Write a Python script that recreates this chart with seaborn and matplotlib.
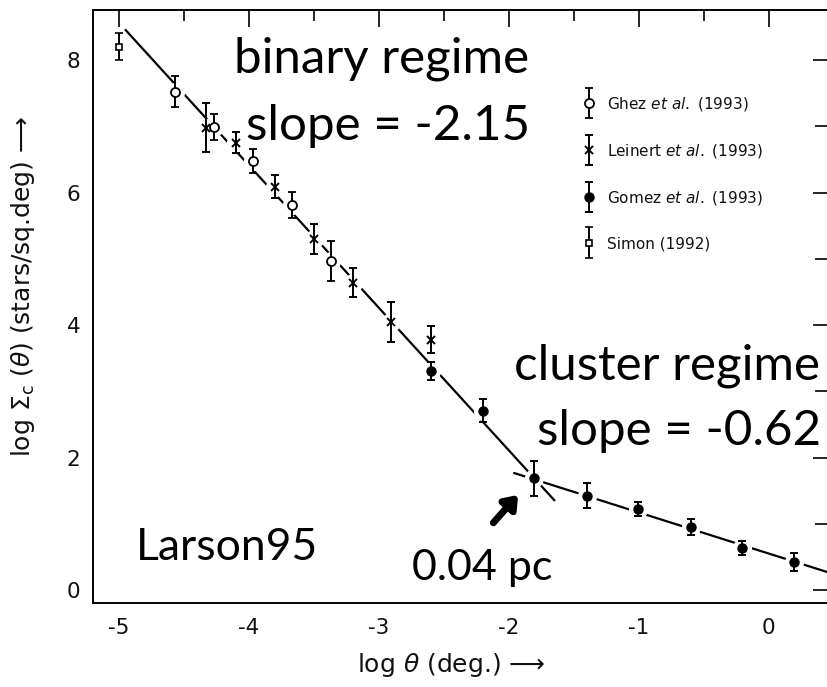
import matplotlib
matplotlib.use("Agg")
import matplotlib.pyplot as plt
import seaborn as sns
import numpy as np
import matplotlib.patheffects as pe
from matplotlib.container import ErrorbarContainer
from matplotlib.legend_handler import HandlerErrorbar
from matplotlib.ticker import MultipleLocator, FixedLocator

# ---------------- data ----------------
ghez_x = [-4.57, -4.27, -3.97, -3.67, -3.37]
ghez_y = [7.52, 6.99, 6.48, 5.81, 4.97]
ghez_e = [0.23, 0.20, 0.18, 0.20, 0.30]

leinert_x = [-4.33, -4.10, -3.80, -3.50, -3.20, -2.91, -2.60]
leinert_y = [6.98, 6.75, 6.09, 5.30, 4.64, 4.05, 3.78]
leinert_e = [0.37, 0.16, 0.17, 0.22, 0.22, 0.30, 0.20]

gomez_x = [-2.60, -2.20, -1.81, -1.40, -1.01, -0.60, -0.21, 0.19]
gomez_y = [3.31, 2.71, 1.69, 1.43, 1.23, 0.95, 0.64, 0.43]
gomez_e = [0.14, 0.17, 0.26, 0.19, 0.11, 0.12, 0.10, 0.13]

simon_x = [-5.00]
simon_y = [8.20]
simon_e = [0.20]

# power-law fits: x range, slope, intercept
binary_range = [-4.95, -1.65]
binary_slope = -2.15
binary_icpt = -2.19
cluster_range = [-1.96, 0.50]
cluster_slope = -0.62
cluster_icpt = 0.555

legend_labels = [r"Ghez $\mathit{et\ al.}$ (1993)",
                 r"Leinert $\mathit{et\ al.}$ (1993)",
                 r"Gomez $\mathit{et\ al.}$ (1993)",
                 "Simon (1992)"]

# ---------------- style ----------------
sns.set_theme(style="white")
plt.rcParams["font.family"] = ["DejaVu Sans"]
plt.rcParams["mathtext.fontset"] = "dejavusans"
plt.rcParams["axes.unicode_minus"] = False

fig = plt.figure(figsize=(8.28, 6.87), dpi=100)
ax = fig.add_axes([93 / 828, 1 - 603 / 687, (830 - 93) / 828, (603 - 9.5) / 687])
ax.set_facecolor("white")

ax.set_xlim(-5.2, 0.47)
ax.set_ylim(-0.19, 8.76)

# fit lines
for rng, s, b in [(binary_range, binary_slope, binary_icpt),
                  (cluster_range, cluster_slope, cluster_icpt)]:
    xx = np.array(rng)
    sns.lineplot(x=xx, y=b + s * xx, ax=ax, color="black", lw=1.6, zorder=1)

# white halos that break the line around each point
allx = ghez_x + leinert_x + gomez_x + simon_x
ally = ghez_y + leinert_y + gomez_y + simon_y
ax.scatter(allx, ally, s=190, color="white", zorder=2, linewidths=0)

ek = dict(ecolor="black", elinewidth=1.4, capsize=3.2, capthick=1.4, zorder=3,
          linestyle="none")
h1 = ax.errorbar(ghez_x, ghez_y, yerr=ghez_e, fmt="o", mfc="white", mec="black",
                 ms=6.5, mew=1.3, **ek)
h2 = ax.errorbar(leinert_x, leinert_y, yerr=leinert_e, fmt="x", color="black",
                 ms=6, mew=1.4, **ek)
h3 = ax.errorbar(gomez_x, gomez_y, yerr=gomez_e, fmt="o", color="black",
                 ms=6.5, **ek)
h4 = ax.errorbar(simon_x, simon_y, yerr=simon_e, fmt="s", mfc="white", mec="black",
                 ms=5, mew=1.2, **ek)

# ticks
ax.xaxis.set_major_locator(FixedLocator([-5, -4, -3, -2, -1, 0]))
ax.xaxis.set_minor_locator(MultipleLocator(0.5))
ax.yaxis.set_major_locator(FixedLocator([0, 2, 4, 6, 8]))
ax.yaxis.set_minor_locator(MultipleLocator(1))
ax.tick_params(which="both", direction="in", top=True, right=True,
               color="black", width=1.2)
ax.tick_params(which="major", length=12, labelsize=15.5, labelcolor="#111111")
ax.tick_params(axis="x", which="major", pad=11)
ax.tick_params(axis="y", which="major", pad=9)
ax.tick_params(which="minor", length=8)
ax.tick_params(axis="y", which="minor", length=11)
for sp in ax.spines.values():
    sp.set_color("black")
    sp.set_linewidth(1.4)

ax.set_xlabel(r"log $\theta$ (deg.) ⟶", fontsize=18, color="#111111")
ax.set_ylabel(r"log $\Sigma_{\rm c}$ ($\theta$) (stars/sq.deg) ⟶",
              fontsize=18, color="#111111")
ax.xaxis.set_label_coords((451 - 93) / (830 - 93), -(651 - 603) / (603 - 9.5))
ax.yaxis.set_label_coords((37 - 93) / (830 - 93), (603 - 286) / (603 - 9.5))

# legend
leg = ax.legend([h1, h2, h3, h4], legend_labels, loc="upper left",
                bbox_to_anchor=(584 / 828, 1 - 95 / 687),
                bbox_transform=fig.transFigure, frameon=False, fontsize=11,
                handlelength=0.6, handletextpad=0.9, labelspacing=1.9,
                borderpad=0, borderaxespad=0, numpoints=1,
                handler_map={ErrorbarContainer: HandlerErrorbar(xerr_size=1.0)})
for t in leg.get_texts():
    t.set_color("#111111")

# annotations
tf = dict(family="Lato", color="black", ha="center", va="center",
          transform=fig.transFigure)
fig.text(382 / 828, 1 - 59 / 687, "binary regime", fontsize=35.5, **tf)
fig.text(388 / 828, 1 - 126 / 687, "slope = -2.15", fontsize=35.5, **tf)
fig.text(667 / 828, 1 - 366 / 687, "cluster regime", fontsize=35.5, **tf)
fig.text(679 / 828, 1 - 431 / 687, "slope = -0.62", fontsize=35.5, **tf)
fig.text(227 / 828, 1 - 547 / 687, "Larson95", fontsize=32, **tf)
fig.text(482 / 828, 1 - 568 / 687, "0.04 pc", fontsize=31, **tf)

arr = ax.annotate("", xy=(-1.93, 1.44), xytext=(-2.12, 1.02),
                  arrowprops=dict(arrowstyle="-|>,head_length=0.6,head_width=0.45",
                                  color="black", lw=5, shrinkA=0, shrinkB=0))
arr.arrow_patch.set_path_effects([pe.SimplePatchShadow(offset=(2, -3), alpha=0.25),
                                  pe.Normal()])

fig.savefig("out.png", dpi=100, facecolor="white")
